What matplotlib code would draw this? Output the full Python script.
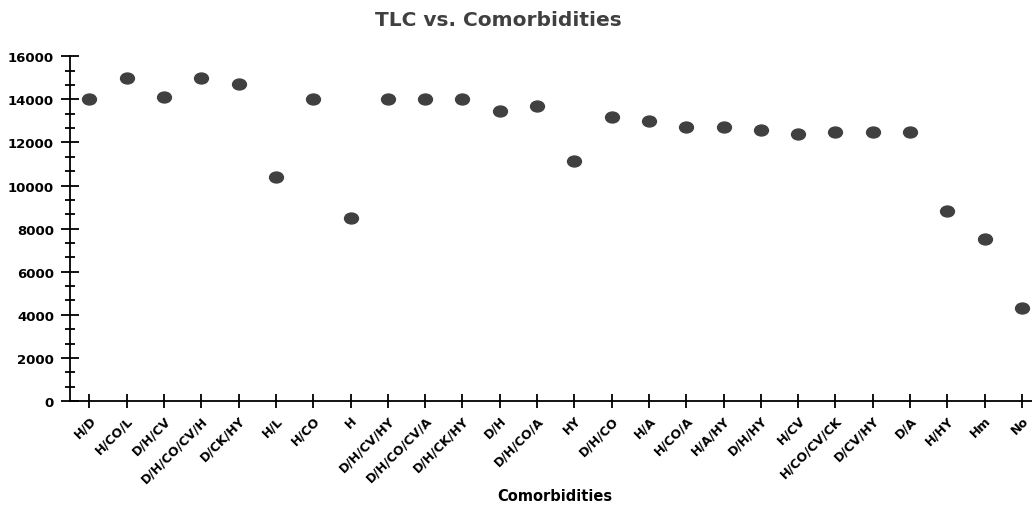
import numpy as np
import matplotlib
matplotlib.use("Agg")
import matplotlib.pyplot as plt
from matplotlib.path import Path
from matplotlib.transforms import Affine2D
from matplotlib.ticker import MultipleLocator

# Kategorien und TLC-Werte
comorbidities = ["H/D", "H/CO/L", "D/H/CV", "D/H/CO/CV/H", "D/CK/HY", "H/L", "H/CO", "H",
                 "D/H/CV/HY", "D/H/CO/CV/A", "D/H/CK/HY", "D/H", "D/H/CO/A", "HY", "D/H/CO",
                 "H/A", "H/CO/A", "H/A/HY", "D/H/HY", "H/CV", "H/CO/CV/CK", "D/CV/HY", "D/A",
                 "H/HY", "Hm", "No"]
tlc = [14000, 15000, 14100, 15000, 14700, 10400, 14000, 8500,
       14000, 14000, 14000, 13450, 13700, 11150, 13200,
       13000, 12700, 12700, 12600, 12400, 12500, 12500, 12500,
       8800, 7500, 4300]

# leicht elliptischer Marker wie im Original
ell = Path.unit_circle().transformed(Affine2D().scale(1.27, 1.0))

fig = plt.figure(figsize=(10.32, 5.06), dpi=100)
ax = fig.add_axes([70/1032, 104/506, 1 - 70/1032, (402 - 57.3)/506])

x = np.arange(len(comorbidities))
ax.plot(x, tlc, linestyle='none', marker=ell, markersize=10, color='#404040', clip_on=False)

ax.set_xlim(-0.52, 25.27)
ax.set_ylim(0, 16000)
ax.set_xticks(x)
ax.set_xticklabels(comorbidities, rotation=45, ha='right', rotation_mode='anchor',
                   fontsize=9, fontweight='bold')
ax.yaxis.set_major_locator(MultipleLocator(2000))
ax.yaxis.set_minor_locator(MultipleLocator(2000/3))
for lab in ax.get_yticklabels():
    lab.set_fontweight('bold')
    lab.set_fontsize(9.5)

ax.tick_params(axis='x', direction='inout', length=10, width=1.3, pad=4)
ax.tick_params(axis='y', which='major', direction='inout', length=13, width=1.3, pad=5)
ax.tick_params(axis='y', which='minor', direction='inout', length=6.5, width=1.3)

for s in ['top', 'right']:
    ax.spines[s].set_visible(False)
for s in ['left', 'bottom']:
    ax.spines[s].set_linewidth(1.3)

fig.text(498/1032, 1 - 20/506, 'TLC vs. Comorbidities', ha='center', va='center',
         fontsize=14.5, fontweight='bold', color='#404040')
fig.text(555/1032, 1 - 497/506, 'Comorbidities', ha='center', va='center',
         fontsize=10.5, fontweight='bold', color='black')

fig.savefig('out.png', dpi=100)
